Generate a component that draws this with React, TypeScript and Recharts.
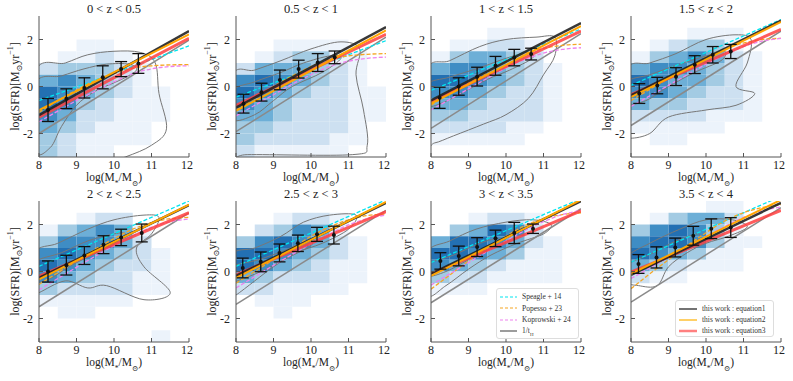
import React from 'react';
import { ComposedChart, Line, Scatter, ErrorBar, XAxis, YAxis, ReferenceArea } from 'recharts';

const titles = ['0 < z < 0.5', '0.5 < z < 1', '1 < z < 1.5', '1.5 < z < 2', '2 < z < 2.5', '2.5 < z < 3', '3 < z < 3.5', '3.5 < z < 4'];

// 2D histogram, 0.5 dex bins; rows from SFR 3 (top) down to -3, columns logM 8..12, digit = shade level
const massEdges = [8, 8.5, 9, 9.5, 10, 10.5, 11, 11.5, 12];
const sfrEdges = [3, 2.5, 2, 1.5, 1, 0.5, 0, -0.5, -1, -1.5, -2, -2.5, -3];
const heat1 = ['00000000', '00000000', '00110000', '01121000', '23332100', '45432100', '65432110', '65321110', '54221110', '43211100', '32111100', '32110000'];
const heat2 = ['00000000', '00000000', '00111100', '01233110', '24443210', '56543210', '65432211', '54322211', '44322211', '33222210', '32222110', '21111100'];
const heat3 = ['00000000', '00011000', '01122100', '13443200', '45543210', '66543210', '55432210', '44322210', '33222210', '22221100', '11111000', '00000000'];
const heat4 = ['00000000', '00011100', '01233100', '13454210', '45543210', '65443210', '55432210', '43322210', '22221110', '11111000', '01100000', '00000000'];
const heat5 = ['00000000', '00122000', '13454100', '35554200', '56543210', '65432210', '54322110', '32222110', '11111000', '01100000', '00000000', '00000010'];
const heat6 = ['00000000', '00122100', '02354100', '35654210', '66543210', '65432110', '43222110', '22111100', '01110000', '00100000', '00000000', '00000000'];
const heat7 = ['00000000', '00122100', '03465200', '46654210', '66543110', '54321110', '32211110', '11100000', '00000000', '00000000', '00000000', '00000000'];
const heat8 = ['00001100', '01344200', '35653100', '56653110', '65431100', '43211100', '21100000', '00000000', '00000000', '00000000', '00000000', '00000000'];
const heatmaps = [heat1, heat2, heat3, heat4, heat5, heat6, heat7, heat8];
const blues = ['#ffffff', '#ecf3fb', '#cde0f1', '#a3cbe3', '#6dafd7', '#3f8dc4', '#2370b3', '#0d5397'];

// straight relations: [log SFR at logM=8, log SFR at logM=12]
const eq1 = [[-1.22, 2.36], [-0.9, 2.53], [-0.59, 2.7], [-0.38, 2.8], [-0.27, 2.82], [-0.19, 2.92], [-0.1, 3.0], [-0.14, 2.92]];
const eq2 = [[-1.0, 2.22], [-1.04, 2.39], [-0.73, 2.57], [-0.45, 2.75], [-0.33, 2.85], [-0.27, 2.96], [-0.19, 3.05], [-0.1, 3.05]];
const eq3 = [[-1.3, 2.05], [-0.8, 2.22], [-0.66, 2.36], [-0.35, 2.43], [-0.2, 2.5], [-0.14, 2.55], [-0.1, 2.58], [-0.03, 2.6]];
const speagle = [[-0.6, 1.73], [-0.45, 1.95], [-0.17, 2.45], [0.05, 2.85], [0.22, 3.0], [0.22, 3.05], [0.38, 3.1], [0.4, 3.2]];
const hubble = [[-2.0, 1.97], [-1.92, 2.1], [-1.78, 2.25], [-1.66, 2.36], [-1.5, 2.5], [-1.4, 2.6], [-1.33, 2.67], [-1.3, 2.72]];
const lineEnds = [8, 12];

// curved literature relations sampled on massGrid
const massGrid = [8, 8.5, 9, 9.5, 10, 10.5, 11, 11.5, 12];
const popesso = [
  [-1.1, -0.6, -0.15, 0.25, 0.55, 0.78, 0.88, 0.92, 0.93],
  [-1.0, -0.5, 0.0, 0.45, 0.85, 1.15, 1.3, 1.37, 1.4],
  [-0.8, -0.3, 0.15, 0.6, 1.05, 1.4, 1.62, 1.75, 1.8],
  [-0.6, -0.12, 0.35, 0.8, 1.25, 1.6, 1.85, 2.0, 2.05],
  [-0.55, -0.05, 0.45, 0.95, 1.4, 1.8, 2.08, 2.25, 2.3],
  [-0.5, 0.0, 0.5, 1.0, 1.5, 1.9, 2.2, 2.38, 2.45],
  [-0.75, -0.15, 0.45, 1.0, 1.5, 1.95, 2.25, 2.42, 2.5],
  [-0.73, -0.1, 0.5, 1.1, 1.65, 2.15, 2.5, 2.72, 2.85],
];
const koprowski = [
  [-1.5, -1.05, -0.6, -0.2, 0.2, 0.55, 0.75, 0.85, 0.88],
  [-1.25, -0.8, -0.35, 0.1, 0.5, 0.85, 1.08, 1.2, 1.25],
  [-1.0, -0.55, -0.1, 0.35, 0.8, 1.15, 1.42, 1.58, 1.65],
  [-0.85, -0.4, 0.05, 0.5, 0.95, 1.35, 1.7, 1.93, 2.05],
  [-0.78, -0.3, 0.18, 0.65, 1.1, 1.52, 1.88, 2.12, 2.23],
  [-0.7, -0.22, 0.26, 0.73, 1.18, 1.6, 1.98, 2.25, 2.4],
  [-0.58, -0.1, 0.38, 0.85, 1.3, 1.75, 2.12, 2.42, 2.6],
  [-0.3, 0.15, 0.6, 1.05, 1.5, 1.92, 2.3, 2.58, 2.75],
];

// binned medians with errors
const binMass = [
  [8.24, 8.73, 9.21, 9.7, 10.19, 10.65], [8.2, 8.68, 9.17, 9.67, 10.18, 10.63],
  [8.23, 8.74, 9.23, 9.72, 10.22, 10.67], [8.22, 8.7, 9.2, 9.7, 10.18, 10.66],
  [8.24, 8.73, 9.21, 9.72, 10.19, 10.74], [8.18, 8.66, 9.16, 9.65, 10.16, 10.61],
  [8.25, 8.74, 9.23, 9.72, 10.22, 10.72], [8.2, 8.68, 9.18, 9.66, 10.14, 10.66],
];
const binSfr = [
  [-1.0, -0.52, -0.06, 0.39, 0.74, 0.98], [-0.73, -0.24, 0.28, 0.74, 1.02, 1.24],
  [-0.48, 0.0, 0.42, 0.88, 1.23, 1.38], [-0.3, 0.04, 0.42, 0.93, 1.35, 1.49],
  [0.0, 0.27, 0.68, 1.14, 1.45, 1.64], [0.15, 0.41, 0.79, 1.2, 1.58, 1.55],
  [0.45, 0.66, 1.04, 1.41, 1.64, 1.82], [0.32, 0.6, 1.02, 1.52, 1.82, 1.87],
];
const binErr = [
  [0.49, 0.42, 0.43, 0.49, 0.32, 0.42], [0.4, 0.38, 0.42, 0.38, 0.38, 0.27],
  [0.45, 0.37, 0.4, 0.4, 0.35, 0.25], [0.42, 0.35, 0.38, 0.38, 0.35, 0.3],
  [0.45, 0.42, 0.38, 0.38, 0.35, 0.38], [0.42, 0.42, 0.38, 0.35, 0.3, 0.38],
  [0.35, 0.42, 0.4, 0.35, 0.45, 0.2], [0.4, 0.45, 0.4, 0.4, 0.42, 0.42],
];

// density contours [logM, logSFR]
const outerContours = [
  [[7.9, 0.6], [8.7, 1.0], [9.3, 1.35], [10, 1.5], [10.7, 1.45], [11.1, 1.0], [11.2, -0.3], [11.4, -1.8], [11.0, -2.5], [10.3, -3.0], [9.5, -3.4], [7.9, -3.4]],
  [[7.9, 0.4], [8.5, 0.7], [9.2, 1.1], [10, 1.6], [10.8, 1.9], [11.3, 1.6], [11.2, 0.5], [11.4, -1.0], [11.5, -2.5], [11.1, -2.9], [8.3, -2.9], [7.9, -3.0]],
  [[7.9, 0.7], [8.5, 1.1], [9.3, 1.7], [10, 2.0], [10.8, 2.1], [11.3, 2.1], [11.3, 1.3], [11.0, 0.5], [10.6, -0.5], [10.0, -1.2], [9.4, -1.6], [8.6, -2.1], [8.1, -2.4], [7.9, -2.3]],
  [[7.9, 0.7], [8.5, 1.0], [9.2, 1.4], [10, 2.0], [10.8, 2.2], [11.2, 2.0], [11.1, 1.0], [10.8, 0.0], [11.3, -0.3], [10.8, -0.8], [10, -1.0], [9.0, -1.3], [8.5, -2.0], [8.0, -2.2], [7.9, -2.0]],
  [[7.9, 0.8], [8.5, 1.2], [9.3, 1.8], [10, 2.2], [10.8, 2.4], [11.2, 2.3], [11.0, 1.6], [10.6, 1.0], [10.8, 0.2], [11.5, -0.9], [10.8, -1.2], [9.8, -0.6], [9.3, -0.7], [8.7, -0.4], [8.0, -0.9], [7.9, -0.9]],
  [[7.9, 0.7], [8.5, 1.0], [9.2, 1.5], [9.8, 2.1], [10.5, 2.4], [11.2, 2.4], [11.0, 1.8], [10.3, 1.2], [9.6, 0.8], [9.0, 0.2], [8.5, -0.4], [8.0, -1.0], [7.9, -1.0]],
  [[7.9, 0.8], [8.5, 1.3], [9.2, 1.8], [10, 2.1], [10.7, 2.2], [11.2, 2.0], [11.0, 1.6], [10.3, 1.2], [9.6, 0.7], [9.0, 0.1], [8.4, -0.6], [7.9, -1.0]],
  [[7.9, 0.6], [8.5, 1.2], [9.3, 1.8], [10, 2.2], [10.7, 2.2], [11.1, 1.9], [10.6, 1.5], [10.0, 1.2], [9.5, 0.8], [9.0, 0.2], [8.7, -0.6], [8.2, -0.6], [7.9, -0.4]],
];
const innerContours = [
  [[7.9, 0.1], [8.6, 0.45], [9.2, 0.75], [9.8, 0.95], [10.4, 0.95], [10.6, 0.7], [10.2, 0.3], [9.5, -0.2], [9.0, -0.8], [8.6, -1.7], [8.3, -2.6], [7.9, -2.7]],
  [[7.9, -0.2], [8.5, 0.2], [9.2, 0.6], [9.8, 1.0], [10.5, 1.3], [10.8, 1.2], [10.3, 0.6], [9.5, 0.0], [9.0, -0.6], [8.5, -1.2], [7.9, -1.4]],
  [[7.9, 0.1], [8.5, 0.4], [9.3, 0.8], [10.0, 1.2], [10.6, 1.45], [10.7, 1.2], [10.1, 0.7], [9.5, 0.3], [8.8, -0.3], [8.3, -0.7], [7.9, -0.8]],
  [[7.9, 0.2], [8.5, 0.5], [9.2, 0.9], [10.0, 1.3], [10.5, 1.5], [10.4, 1.1], [9.7, 0.6], [9.0, 0.0], [8.4, -0.6], [7.9, -0.7]],
  [[7.9, 0.4], [8.6, 0.8], [9.3, 1.3], [10.0, 1.6], [10.3, 1.6], [10.0, 1.2], [9.4, 0.7], [8.8, 0.2], [8.3, -0.3], [7.9, -0.4]],
  [[7.9, 0.2], [8.6, 0.5], [9.3, 0.9], [9.9, 1.3], [10.0, 1.1], [9.4, 0.6], [8.8, 0.1], [8.2, -0.3], [7.9, -0.4]],
  [[7.9, 0.3], [8.6, 0.7], [9.3, 1.2], [9.8, 1.4], [9.6, 1.0], [9.0, 0.5], [8.4, 0.0], [7.9, -0.2]],
  [[7.9, 0.3], [8.6, 0.8], [9.2, 1.3], [9.8, 1.6], [9.7, 1.2], [9.1, 0.7], [8.5, 0.2], [7.9, 0.0]],
];

const xTicks = [8, 9, 10, 11, 12];
const yTicks = [-2, 0, 2];
const xMinor = [8.2, 8.4, 8.6, 8.8, 9.2, 9.4, 9.6, 9.8, 10.2, 10.4, 10.6, 10.8, 11.2, 11.4, 11.6, 11.8];
const yMinor = [-2.5, -1.5, -1, -0.5, 0.5, 1, 1.5, 2.5];

const plotLefts = [39, 236, 431, 631];
const plotTops = [16, 201];
const FONT = '"Liberation Serif", "DejaVu Serif", serif';
const FRAME = '#555';

const C = {
  eq1: '#222222', eq2: '#ffa500', eq3: '#ff4040',
  speagle: '#00e5f0', popesso: '#f5a623', koprowski: '#ee82ee', hubble: '#8a8a8a', contour: '#777777',
};

// closed catmull-rom curve so contour lines pass through their points
const smoothClosed: any = (ctx: any) => {
  let pts: number[][] = [];
  return {
    areaStart() {},
    areaEnd() {},
    lineStart() { pts = []; },
    point(x: number, y: number) { pts.push([+x, +y]); },
    lineEnd() {
      const n = pts.length;
      if (!n) return;
      ctx.moveTo(pts[0][0], pts[0][1]);
      for (let k = 0; k < n; k++) {
        const p0 = pts[(k - 1 + n) % n], p1 = pts[k], p2 = pts[(k + 1) % n], p3 = pts[(k + 2) % n];
        ctx.bezierCurveTo(
          p1[0] + (p2[0] - p0[0]) / 6, p1[1] + (p2[1] - p0[1]) / 6,
          p2[0] - (p3[0] - p1[0]) / 6, p2[1] - (p3[1] - p1[1]) / 6,
          p2[0], p2[1],
        );
      }
      ctx.closePath();
    },
  };
};

const Dot = (p: any) => <circle cx={p.cx} cy={p.cy} r={2} fill="#111" />;

const YLabel = (p: any) => {
  const vb = p.viewBox;
  const cx = vb.x + 15;
  const cy = vb.y + vb.height / 2;
  return (
    <text x={cx} y={cy} transform={`rotate(-90 ${cx} ${cy})`} textAnchor="middle" dominantBaseline="central" fontSize={12} fill="#222">
      log(SFR)[M<tspan baselineShift="sub" fontSize={8}>⊙</tspan>yr<tspan baselineShift="super" fontSize={8}>−1</tspan>]
    </text>
  );
};

const XLabel = (p: any) => {
  const vb = p.viewBox;
  return (
    <text x={vb.x + vb.width / 2} y={vb.y + 24} textAnchor="middle" fontSize={11.5} fill="#222">
      log(M<tspan baselineShift="sub" fontSize={7.5}>*</tspan>/M<tspan baselineShift="sub" fontSize={7.5}>⊙</tspan>)
    </text>
  );
};

function straight(v: number[]) {
  return lineEnds.map((x, i) => ({ x, y: v[i] }));
}

function Panel({ i }: { i: number }) {
  const left = plotLefts[i % 4];
  const top = plotTops[Math.floor(i / 4)];
  const cells: any[] = [];
  heatmaps[i].forEach((row, r) => {
    row.split('').forEach((ch, c) => {
      const lv = Number(ch);
      if (lv > 0) cells.push({ x1: massEdges[c], x2: massEdges[c + 1], y1: sfrEdges[r + 1], y2: sfrEdges[r], lv });
    });
  });
  const pts = binMass[i].map((x, k) => ({ x, y: binSfr[i][k], e: binErr[i][k] }));
  const curve = (vals: number[]) => massGrid.map((x, k) => ({ x, y: vals[k] }));
  const poly = (arr: number[][]) => arr.map(([x, y]) => ({ x, y }));
  const tick = { fontSize: 12, fill: '#222' };
  return (
    <>
      <div style={{ position: 'absolute', left, top: top - 13, width: 150, textAlign: 'center', fontSize: 12.5, lineHeight: '12px', color: '#222' }}>
        {titles[i]}
      </div>
      <div style={{ position: 'absolute', left: left - 39, top: top - 16 }}>
        <ComposedChart width={193} height={193} margin={{ top: 16, right: 4, bottom: 0, left: 0 }}>
          <XAxis xAxisId="mx" type="number" dataKey="x" domain={[8, 12]} ticks={xMinor} tick={false} tickSize={-2} axisLine={false} height={0} stroke={FRAME} allowDataOverflow />
          <XAxis type="number" dataKey="x" domain={[8, 12]} ticks={xTicks} tick={tick} tickSize={-4} tickMargin={7} height={36} stroke={FRAME} allowDataOverflow label={XLabel} />
          <XAxis xAxisId="top" orientation="top" type="number" dataKey="x" domain={[8, 12]} tick={false} tickLine={false} height={0} stroke={FRAME} />
          <YAxis yAxisId="my" type="number" domain={[-3, 3]} ticks={yMinor} tick={false} tickSize={-2} axisLine={false} width={0} stroke={FRAME} />
          <YAxis type="number" domain={[-3, 3]} ticks={yTicks} tick={tick} tickSize={-4} tickMargin={10} width={39} stroke={FRAME} allowDataOverflow label={YLabel} />
          <YAxis yAxisId="right" orientation="right" type="number" domain={[-3, 3]} tick={false} tickLine={false} width={0} stroke={FRAME} />
          {cells.map((c, k) => (
            <ReferenceArea key={k} x1={c.x1} x2={c.x2} y1={c.y1} y2={c.y2} fill={blues[c.lv]} fillOpacity={1} stroke="none" />
          ))}
          <Line data={poly(outerContours[i])} dataKey="y" type={smoothClosed} stroke={C.contour} strokeWidth={1} dot={false} isAnimationActive={false} />
          <Line data={poly(innerContours[i])} dataKey="y" type={smoothClosed} stroke={C.contour} strokeWidth={1} dot={false} isAnimationActive={false} />
          <Line data={straight(hubble[i])} dataKey="y" type="linear" stroke={C.hubble} strokeWidth={1.5} dot={false} isAnimationActive={false} />
          <Line data={straight(speagle[i])} dataKey="y" type="linear" stroke={C.speagle} strokeWidth={1.3} strokeDasharray="4 2" dot={false} isAnimationActive={false} />
          <Line data={curve(popesso[i])} dataKey="y" type="monotone" stroke={C.popesso} strokeWidth={1.3} strokeDasharray="4 2" dot={false} isAnimationActive={false} />
          <Line data={curve(koprowski[i])} dataKey="y" type="monotone" stroke={C.koprowski} strokeWidth={1.3} strokeDasharray="4 2" dot={false} isAnimationActive={false} />
          <Line data={straight(eq3[i])} dataKey="y" type="linear" stroke={C.eq3} strokeWidth={3} strokeOpacity={0.85} dot={false} isAnimationActive={false} />
          <Line data={straight(eq1[i])} dataKey="y" type="linear" stroke={C.eq1} strokeWidth={2.5} strokeOpacity={0.9} dot={false} isAnimationActive={false} />
          <Line data={straight(eq2[i])} dataKey="y" type="linear" stroke={C.eq2} strokeWidth={2} dot={false} isAnimationActive={false} />
          <Scatter data={pts} dataKey="y" shape={Dot} isAnimationActive={false}>
            <ErrorBar dataKey="e" direction="y" width={6} stroke="#111" strokeWidth={1.3} />
          </Scatter>
        </ComposedChart>
      </div>
    </>
  );
}

const litLegend = [
  { label: 'Speagle + 14', color: C.speagle, dash: '3 2', w: 1.2 },
  { label: 'Popesso + 23', color: C.popesso, dash: '3 2', w: 1.2 },
  { label: 'Koprowski + 24', color: C.koprowski, dash: '3 2', w: 1.2 },
  { label: '1/t_H', color: '#666', dash: undefined, w: 1.3 },
];
const workLegend = [
  { label: 'this work : equation1', color: '#444', w: 1.5, op: 1 },
  { label: 'this work : equation2', color: '#ffb000', w: 1.2, op: 1 },
  { label: 'this work : equation3', color: '#ff6060', w: 2.5, op: 0.8 },
];

function LegendBox({ left, top, width, height, rows, lineW, gap }: any) {
  return (
    <div style={{ position: 'absolute', left, top, width, height, boxSizing: 'border-box', border: '1px solid #ddd', borderRadius: 3, background: 'rgba(255,255,255,0.85)', padding: '2px 3px', fontSize: 7.5, color: '#333' }}>
      {rows.map((r: any) => (
        <div key={r.label} style={{ display: 'flex', alignItems: 'center', height: gap }}>
          <svg width={lineW} height={6} style={{ marginRight: 5 }}>
            <line x1={0} y1={3} x2={lineW} y2={3} stroke={r.color} strokeWidth={r.w} strokeDasharray={r.dash} strokeOpacity={r.op ?? 1} />
          </svg>
          <span>
            {r.label === '1/t_H' ? (<>1/t<sub style={{ fontSize: 5 }}>H</sub></>) : r.label}
          </span>
        </div>
      ))}
    </div>
  );
}

export default function App() {
  return (
    <div style={{ position: 'absolute', left: 0, top: 0, width: 793, height: 381, background: '#fff', fontFamily: FONT, overflow: 'hidden' }}>
      {titles.map((_, i) => <Panel key={i} i={i} />)}
      <LegendBox left={496} top={288} width={83} height={51} rows={litLegend} lineW={17} gap={11.5} />
      <LegendBox left={675} top={300} width={99} height={37} rows={workLegend} lineW={18} gap={11} />
    </div>
  );
}
